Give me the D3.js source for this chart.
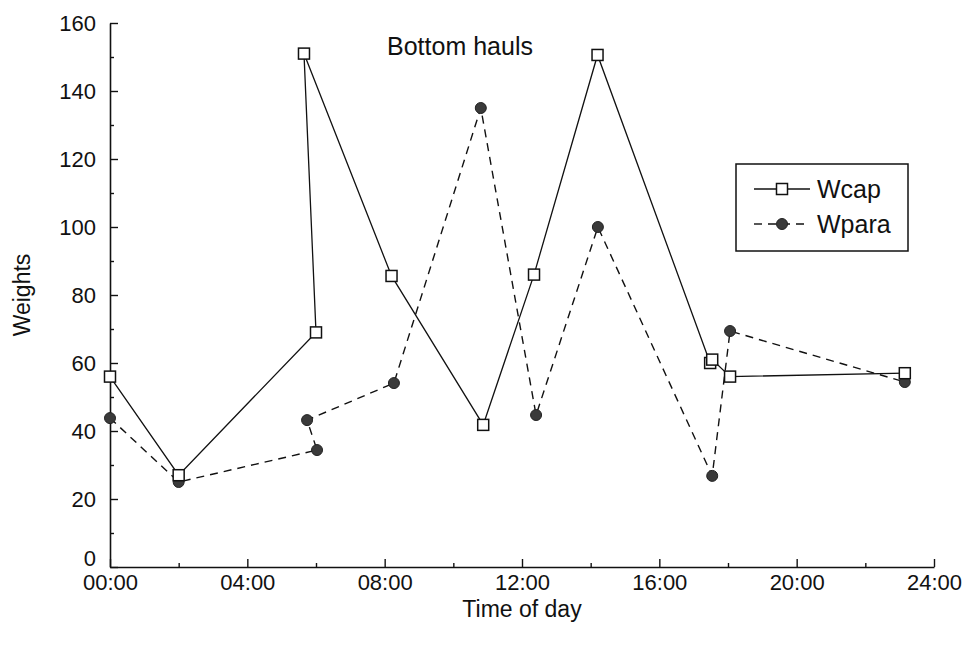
<!DOCTYPE html>
<html>
<head>
<meta charset="utf-8">
<script src="https://cdn.jsdelivr.net/npm/d3@7"></script>
<style>
  html, body { margin: 0; padding: 0; background: #fff; }
  svg { display: block; font-family: "Liberation Sans", Arial, sans-serif; }
</style>
</head>
<body>
<svg id="chart" width="972" height="645"></svg>
<script>
// Sampling times (hours after midnight) and weights, in haul order
const wcapTimes  = [0, 2.0, 6.0, 5.65, 8.2, 10.87, 12.35, 14.2, 17.48, 17.54, 18.06, 23.15];
const wcapValues = [56, 27, 69, 151, 85.6, 41.8, 86, 150.6, 60, 61, 56, 57];

const wparaTimes  = [0, 2.0, 6.03, 5.74, 8.27, 10.8, 12.41, 14.21, 17.54, 18.06, 23.15];
const wparaValues = [43.8, 25, 34.4, 43.2, 54.1, 135, 44.7, 100, 26.8, 69.4, 54.4];

const xTickHours = [0, 4, 8, 12, 16, 20, 24];
const yTickValues = [0, 20, 40, 60, 80, 100, 120, 140, 160];

const chartTitle = "Bottom hauls";
const xTitle = "Time of day";
const yTitle = "Weights";
const seriesNames = ["Wcap", "Wpara"];

const svg = d3.select("#chart");
const plotLeft = 110, plotRight = 934, plotTop = 23, plotBottom = 567;
const tickFont = "22px";
const titleFont = "23px";

const x = d3.scaleLinear().domain([0, 24]).range([plotLeft, plotRight]);
const y = d3.scaleLinear().domain([0, 160]).range([plotBottom, plotTop]);

const fmtHour = h => String(h).padStart(2, "0") + ":00";

// Axes: ticks point into the plot
const xAxis = svg.append("g").attr("transform", `translate(0,${plotBottom})`)
  .call(d3.axisBottom(x).tickValues(xTickHours).tickFormat(fmtHour).tickSize(-8).tickSizeOuter(0).tickPadding(4));
svg.append("g").attr("transform", `translate(0,${plotBottom})`)
  .call(d3.axisBottom(x).tickValues(d3.range(2, 24, 4)).tickFormat("").tickSize(-4).tickSizeOuter(0))
  .select(".domain").remove();

const yAxis = svg.append("g").attr("transform", `translate(${plotLeft},0)`)
  .call(d3.axisLeft(y).tickValues(yTickValues).tickSize(-8).tickSizeOuter(0).tickPadding(14));
svg.append("g").attr("transform", `translate(${plotLeft},0)`)
  .call(d3.axisLeft(y).tickValues(d3.range(10, 160, 20)).tickFormat("").tickSize(-4).tickSizeOuter(0))
  .select(".domain").remove();

svg.selectAll(".domain").attr("stroke", "#111").attr("stroke-width", 1.6);
svg.selectAll(".tick line").attr("stroke", "#111").attr("stroke-width", 1.4);
svg.selectAll(".tick text").attr("fill", "#111").style("font-size", tickFont)
  .style("font-family", "'Liberation Sans', Arial, sans-serif");
xAxis.selectAll(".tick text").attr("dy", "0.85em");
yAxis.selectAll(".tick text").attr("dy", "0.35em");
// the zero label sits slightly above the axis line
yAxis.selectAll(".tick").filter(d => d === 0).select("text").attr("dy", "-0.05em");

// Titles
svg.append("text").attr("x", 460).attr("y", 55).attr("text-anchor", "middle")
  .style("font-size", "25px").attr("fill", "#111").text(chartTitle);
svg.append("text").attr("x", 522).attr("y", 617).attr("text-anchor", "middle")
  .style("font-size", titleFont).attr("fill", "#111").text(xTitle);
svg.append("text").attr("transform", "translate(30,295) rotate(-90)").attr("text-anchor", "middle")
  .style("font-size", titleFont).attr("fill", "#111").text(yTitle);

const wcap = wcapTimes.map((t, i) => [t, wcapValues[i]]);
const wpara = wparaTimes.map((t, i) => [t, wparaValues[i]]);
const line = d3.line().x(d => x(d[0])).y(d => y(d[1]));

svg.append("path").datum(wpara).attr("d", line).attr("fill", "none")
  .attr("stroke", "#111").attr("stroke-width", 1.4).attr("stroke-dasharray", "8,6");
svg.append("path").datum(wcap).attr("d", line).attr("fill", "none")
  .attr("stroke", "#111").attr("stroke-width", 1.3);

const sq = 11;
svg.append("g").selectAll("circle").data(wpara).join("circle")
  .attr("cx", d => x(d[0])).attr("cy", d => y(d[1])).attr("r", 5.5)
  .attr("fill", "#3a3a3a").attr("stroke", "#222").attr("stroke-width", 1);
svg.append("g").selectAll("rect").data(wcap).join("rect")
  .attr("x", d => x(d[0]) - sq / 2).attr("y", d => y(d[1]) - sq / 2)
  .attr("width", sq).attr("height", sq)
  .attr("fill", "#fff").attr("stroke", "#111").attr("stroke-width", 1.5);

// Legend
const lg = svg.append("g");
lg.append("rect").attr("x", 736).attr("y", 164).attr("width", 172).attr("height", 87)
  .attr("fill", "#fff").attr("stroke", "#111").attr("stroke-width", 1.5);
const row1 = 189, row2 = 224;
lg.append("line").attr("x1", 754).attr("x2", 810).attr("y1", row1).attr("y2", row1)
  .attr("stroke", "#111").attr("stroke-width", 1.3);
lg.append("rect").attr("x", 782 - sq / 2).attr("y", row1 - sq / 2).attr("width", sq).attr("height", sq)
  .attr("fill", "#fff").attr("stroke", "#111").attr("stroke-width", 1.5);
lg.append("line").attr("x1", 754).attr("x2", 810).attr("y1", row2).attr("y2", row2)
  .attr("stroke", "#111").attr("stroke-width", 1.4).attr("stroke-dasharray", "8,6");
lg.append("circle").attr("cx", 782).attr("cy", row2).attr("r", 5.5)
  .attr("fill", "#3a3a3a").attr("stroke", "#222").attr("stroke-width", 1);
lg.selectAll("text.lab").data(seriesNames).join("text").attr("class", "lab")
  .attr("x", 817).attr("y", (d, i) => [row1, row2][i]).attr("dy", "0.35em")
  .style("font-size", "25px").attr("fill", "#111").text(d => d);
</script>
</body>
</html>
